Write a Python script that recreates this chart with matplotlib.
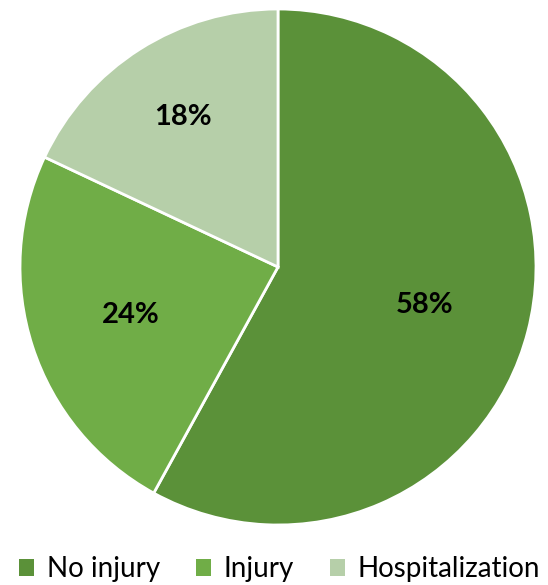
import matplotlib
matplotlib.use("Agg")
import matplotlib.pyplot as plt
import numpy as np
from matplotlib.patches import Patch

categories = ["No injury", "Injury", "Hospitalization"]
values = [58, 24, 18]
colors = ["#5B9139", "#70AD47", "#B6CFA9"]
label_r = [0.585, 0.60, 0.69]

plt.rcParams['font.family'] = ['Lato', 'DejaVu Sans']
W, H = 548, 585
fig = plt.figure(figsize=(W/100, H/100), dpi=100)
cx, cy, r = 278, 267, 258
ax = fig.add_axes([(cx-r)/W, 1-(cy+r)/H, 2*r/W, 2*r/H])
wedges, _ = ax.pie(values, colors=colors, startangle=90, counterclock=False,
                   radius=1, wedgeprops=dict(edgecolor="white", linewidth=2))
ax.set_xlim(-1, 1); ax.set_ylim(-1, 1)
for w, v, lr in zip(wedges, values, label_r):
    ang = np.deg2rad((w.theta1 + w.theta2) / 2)
    ax.text(lr*np.cos(ang), lr*np.sin(ang), f"{v}%", ha="center", va="center",
            fontsize=21, fontweight="bold", color="black")

handles = [Patch(facecolor=c, edgecolor="none") for c in colors]
fig.legend(handles, categories, loc="center", bbox_to_anchor=(0.51, 1-569/H),
           ncol=3, frameon=False, fontsize=20, handlelength=0.55, handleheight=0.55,
           handletextpad=0.45, columnspacing=1.3, borderpad=0, borderaxespad=0)
fig.savefig("out.png", dpi=100)
